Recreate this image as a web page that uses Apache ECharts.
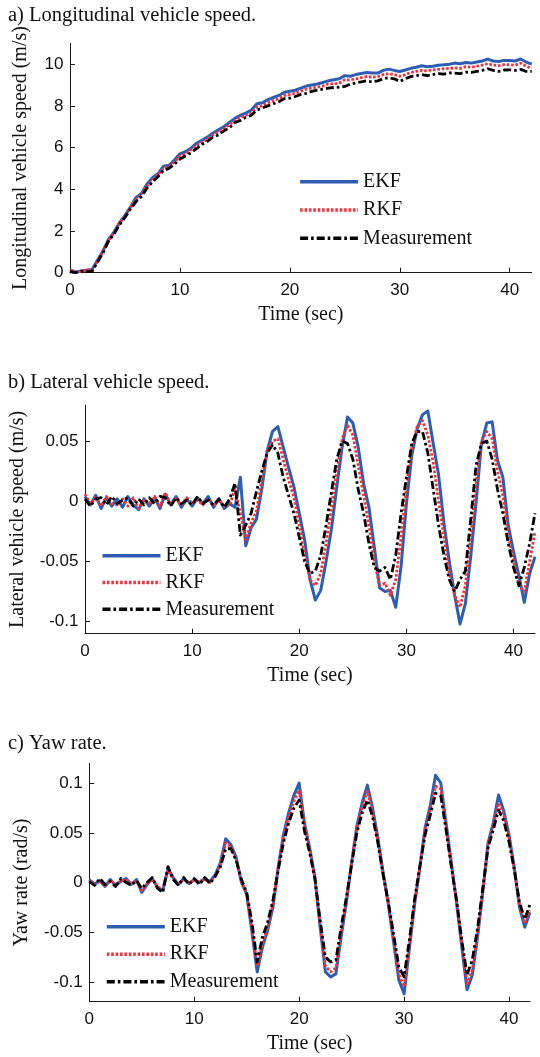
<!DOCTYPE html>
<html>
<head>
<meta charset="utf-8">
<script src="https://cdn.jsdelivr.net/npm/echarts@6/dist/echarts.min.js"></script>
<style>
html,body{margin:0;padding:0;background:#fff;}
#chart{width:540px;height:1057px;}
</style>
</head>
<body>
<div id="chart"></div>
<script>
// ---- data ----
const time = [0,0.5,1,1.5,2,2.5,3,3.5,4,4.5,5,5.5,6,6.5,7,7.5,8,8.5,9,9.5,10,10.5,11,11.5,12,12.5,13,13.5,14,14.5,15,15.5,16,16.5,17,17.5,18,18.5,19,19.5,20,20.5,21,21.5,22,22.5,23,23.5,24,24.5,25,25.5,26,26.5,27,27.5,28,28.5,29,29.5,30,30.5,31,31.5,32,32.5,33,33.5,34,34.5,35,35.5,36,36.5,37,37.5,38,38.5,39,39.5,40,40.5,41,41.5,42];

const seriesNames = ['EKF', 'RKF', 'Measurement'];
const panelTitles = ['a) Longitudinal vehicle speed.', 'b) Lateral vehicle speed.', 'c) Yaw rate.'];
const yNames = ['Longitudinal vehicle speed (m/s)', 'Lateral vehicle speed (m/s)', 'Yaw rate (rad/s)'];
const xName = 'Time (sec)';
const xTicks = [0, 10, 20, 30, 40];
const yTicksA = [0, 2, 4, 6, 8, 10];
const yTicksB = [-0.1, -0.05, 0, 0.05];
const yTicksC = [-0.1, -0.05, 0, 0.05, 0.1];

// a) longitudinal speed (m/s)
const ekfA = [0.15,0.02,0.08,0.12,0.15,0.6,1.05,1.6,1.95,2.4,
  2.75,3.15,3.6,3.8,4.25,4.55,4.75,5.1,5.15,5.4,
  5.7,5.8,5.97,6.2,6.35,6.5,6.7,6.85,7.0,7.2,
  7.4,7.55,7.65,7.8,8.1,8.15,8.3,8.4,8.5,8.65,
  8.7,8.75,8.85,8.95,9.0,9.05,9.12,9.2,9.25,9.3,
  9.45,9.42,9.5,9.55,9.6,9.58,9.57,9.7,9.76,9.7,
  9.65,9.72,9.8,9.85,9.92,9.88,9.9,9.95,9.97,10.0,
  10.05,10.02,10.08,10.05,10.1,10.15,10.24,10.15,10.13,10.18,
  10.18,10.15,10.25,10.1,10.0];
const rkfA = [0.1,0.05,0.05,0.15,0.1,0.55,1.0,1.55,1.9,2.35,
  2.7,3.1,3.5,3.75,4.15,4.45,4.7,5.0,5.1,5.3,
  5.6,5.7,5.9,6.1,6.25,6.4,6.6,6.75,6.9,7.1,
  7.3,7.45,7.55,7.65,7.95,8.0,8.15,8.25,8.35,8.5,
  8.55,8.6,8.7,8.8,8.85,8.9,8.95,9.05,9.05,9.1,
  9.25,9.25,9.3,9.35,9.4,9.38,9.4,9.5,9.55,9.5,
  9.42,9.5,9.6,9.65,9.7,9.68,9.72,9.75,9.78,9.8,
  9.82,9.8,9.88,9.85,9.9,9.95,10.02,9.95,9.93,9.98,
  9.97,9.95,10.05,9.9,9.8];
const measA = [0.05,0.0,0.08,0.05,0.05,0.5,0.95,1.5,1.85,2.3,
  2.65,3.05,3.4,3.65,4.05,4.35,4.6,4.9,5.0,5.2,
  5.45,5.6,5.75,5.95,6.15,6.3,6.5,6.6,6.8,6.95,
  7.2,7.3,7.45,7.55,7.8,7.9,8.0,8.1,8.2,8.35,
  8.37,8.45,8.55,8.6,8.7,8.75,8.8,8.85,8.88,8.9,
  8.93,9.05,9.1,9.15,9.2,9.15,9.2,9.3,9.35,9.3,
  9.17,9.3,9.4,9.45,9.5,9.45,9.5,9.55,9.52,9.58,
  9.57,9.55,9.62,9.6,9.65,9.7,9.78,9.7,9.65,9.72,
  9.73,9.7,9.75,9.65,9.65];

// b) lateral speed (m/s)
const ekfB = [0.004,-0.003,0.005,-0.006,0.003,-0.004,0.002,-0.005,0.004,-0.003,
  -0.007,0.002,-0.004,0.003,-0.006,0.006,-0.003,0.004,-0.005,0.002,
  -0.004,0.003,-0.002,0.004,-0.005,0.002,-0.006,-0.002,-0.005,0.02,
  -0.037,-0.022,-0.015,0.01,0.042,0.058,0.062,0.045,0.028,0.012,
  -0.01,-0.032,-0.065,-0.082,-0.074,-0.05,-0.023,0.012,0.045,0.07,
  0.065,0.045,0.015,-0.005,-0.038,-0.072,-0.075,-0.074,-0.088,-0.054,
  -0.002,0.038,0.06,0.072,0.075,0.048,0.022,-0.018,-0.05,-0.078,
  -0.102,-0.085,-0.046,-0.001,0.048,0.065,0.066,0.034,0.02,-0.02,
  -0.042,-0.062,-0.084,-0.06,-0.046];
const rkfB = [0.006,-0.002,0.003,-0.004,0.004,-0.002,-0.003,0.002,-0.004,0.003,
  -0.006,0.001,-0.002,0.004,-0.004,0.007,-0.002,0.002,-0.003,0.003,
  -0.002,0.001,-0.003,0.002,-0.004,0.001,-0.004,-0.003,0.01,-0.01,
  -0.032,-0.018,-0.008,0.018,0.042,0.05,0.052,0.035,0.018,0.003,
  -0.02,-0.045,-0.065,-0.07,-0.06,-0.035,-0.005,0.025,0.052,0.063,
  0.055,0.03,0.005,-0.02,-0.05,-0.07,-0.068,-0.078,-0.065,-0.03,
  0.012,0.045,0.062,0.067,0.055,0.032,0.0,-0.03,-0.06,-0.078,
  -0.088,-0.07,-0.03,0.015,0.05,0.058,0.052,0.025,0.005,-0.028,
  -0.05,-0.07,-0.075,-0.05,-0.025];
const measB = [0.002,-0.004,0.002,0.003,-0.003,0.004,-0.002,0.001,0.003,-0.004,
  0.002,-0.003,0.003,-0.002,0.004,0.003,-0.004,0.003,-0.002,0.001,
  -0.003,0.004,-0.002,0.001,-0.003,0.002,-0.005,0.002,0.015,-0.028,
  -0.02,-0.01,0.008,0.025,0.04,0.047,0.04,0.02,0.005,-0.01,
  -0.03,-0.05,-0.06,-0.058,-0.045,-0.02,0.008,0.035,0.05,0.048,
  0.035,0.01,-0.01,-0.035,-0.055,-0.058,-0.055,-0.065,-0.045,-0.01,
  0.02,0.048,0.058,0.058,0.04,0.01,-0.02,-0.045,-0.065,-0.075,
  -0.065,-0.058,-0.015,0.03,0.048,0.05,0.035,0.01,-0.01,-0.035,
  -0.055,-0.07,-0.055,-0.035,-0.01];

// c) yaw rate (rad/s)
const ekfC = [0.003,-0.002,0.002,-0.004,0.003,-0.003,0.001,0.004,-0.002,0.003,
  -0.01,-0.002,0.004,-0.005,-0.008,0.014,0.005,-0.002,0.004,-0.001,
  0.003,0.0,0.004,0.001,0.008,0.02,0.044,0.038,0.025,0.0,
  -0.012,-0.05,-0.09,-0.065,-0.048,-0.025,0.015,0.048,0.07,0.088,
  0.1,0.06,0.035,0.005,-0.045,-0.09,-0.095,-0.092,-0.055,-0.02,
  0.02,0.057,0.08,0.098,0.075,0.045,0.01,-0.022,-0.06,-0.098,
  -0.112,-0.067,-0.022,0.015,0.055,0.078,0.108,0.1,0.06,0.02,
  -0.02,-0.065,-0.108,-0.093,-0.055,-0.01,0.04,0.06,0.088,0.072,
  0.048,0.015,-0.025,-0.045,-0.03];
const rkfC = [0.002,-0.001,0.001,-0.003,0.002,-0.002,0.002,0.003,-0.001,0.002,
  -0.008,-0.001,0.003,-0.004,-0.007,0.012,0.004,-0.001,0.003,0.0,
  0.002,0.001,0.003,0.0,0.007,0.018,0.04,0.036,0.023,0.001,
  -0.011,-0.046,-0.084,-0.062,-0.045,-0.022,0.015,0.045,0.066,0.082,
  0.093,0.057,0.033,0.005,-0.042,-0.084,-0.09,-0.086,-0.05,-0.018,
  0.02,0.054,0.076,0.092,0.071,0.042,0.009,-0.021,-0.057,-0.092,
  -0.105,-0.063,-0.02,0.015,0.052,0.074,0.097,0.094,0.057,0.018,
  -0.019,-0.061,-0.102,-0.088,-0.052,-0.009,0.037,0.057,0.08,0.068,
  0.045,0.014,-0.023,-0.041,-0.028];
const measC = [0.001,-0.003,0.004,-0.002,0.001,-0.004,0.004,0.0,-0.003,0.002,
  -0.006,0.0,0.005,-0.006,-0.01,0.016,0.003,-0.003,0.005,-0.002,
  0.004,-0.002,0.005,-0.001,0.006,0.016,0.034,0.034,0.022,0.003,
  -0.01,-0.04,-0.08,-0.055,-0.04,-0.018,0.012,0.04,0.06,0.075,
  0.083,0.052,0.03,0.004,-0.038,-0.075,-0.08,-0.078,-0.045,-0.015,
  0.018,0.05,0.07,0.083,0.066,0.04,0.008,-0.02,-0.052,-0.085,
  -0.095,-0.058,-0.017,0.016,0.048,0.068,0.09,0.087,0.053,0.016,
  -0.018,-0.058,-0.093,-0.078,-0.046,-0.006,0.035,0.053,0.073,0.062,
  0.041,0.013,-0.02,-0.037,-0.022];

// ---- styling ----
const SERIF = '"Liberation Serif","Times New Roman",serif';
const SANS = '"Liberation Sans",Arial,sans-serif';
const AXIS_COLOR = '#1a1a1a';
const styles = {
  EKF: { color: '#2d5eb3', width: 3, type: 'solid' },
  RKF: { color: '#f2323c', width: 2.8, type: [2.6, 1.8] },
  Measurement: { color: '#000000', width: 2.8, type: [8, 3, 2.6, 3] }
};

function pairs(ts, vs) { return ts.map((t, i) => [t, vs[i]]); }
function fmt(v) { return v === 0 ? '0' : String(v); }

const grids = [
  { left: 70, top: 43.3, width: 461.7, height: 229.4 },
  { left: 81.7, top: 405, width: 453.3, height: 228.7 },
  { left: 89.3, top: 763.3, width: 440.7, height: 238.4 }
];
const yRanges = [[0, 11], [-0.11, 0.08], [-0.12, 0.12]];
const yTickSets = [yTicksA, yTicksB, yTicksC];
const yNameGaps = [39, 57, 58];
const titleTops = [5, 371.7, 733.3];
const legendPos = [
  { left: 298.3, top: 171.7, itemGap: 8.3 },
  { left: 100.7, top: 545.7, itemGap: 6.8 },
  { left: 105, top: 916.7, itemGap: 7.5 }
];
const panelData = [[ekfA, rkfA, measA], [ekfB, rkfB, measB], [ekfC, rkfC, measC]];

const option = {
  backgroundColor: '#ffffff',
  animation: false,
  title: panelTitles.map((t, i) => ({
    text: t, left: 8, top: titleTops[i], padding: 0,
    textStyle: { fontFamily: SERIF, fontSize: 20.5, fontWeight: 'normal', color: '#111' }
  })),
  grid: grids,
  xAxis: grids.map((g, i) => ({
    type: 'value', gridIndex: i, min: 0, max: 42,
    name: xName, nameLocation: 'middle', nameGap: 32,
    nameTextStyle: { fontFamily: SERIF, fontSize: 20, color: '#111' },
    axisLine: { show: true, onZero: false, lineStyle: { color: AXIS_COLOR, width: 1 } },
    axisTick: { show: true, inside: true, length: 5, customValues: xTicks, lineStyle: { color: AXIS_COLOR } },
    axisLabel: { customValues: xTicks, margin: 9, fontFamily: SANS, fontSize: 17, color: '#111' },
    splitLine: { show: false }
  })),
  yAxis: grids.map((g, i) => ({
    type: 'value', gridIndex: i, min: yRanges[i][0], max: yRanges[i][1],
    name: yNames[i], nameLocation: 'middle', nameGap: yNameGaps[i],
    nameTextStyle: { fontFamily: SERIF, fontSize: 20, color: '#111' },
    axisLine: { show: true, onZero: false, lineStyle: { color: AXIS_COLOR, width: 1 } },
    axisTick: { show: true, inside: true, length: 5, customValues: yTickSets[i], lineStyle: { color: AXIS_COLOR } },
    axisLabel: { customValues: yTickSets[i], margin: 6.5, fontFamily: SANS, fontSize: 17, color: '#111', formatter: fmt },
    splitLine: { show: false }
  })),
  legend: legendPos.map(p => ({
    orient: 'vertical', left: p.left, top: p.top, itemGap: p.itemGap,
    itemWidth: 58, itemHeight: 14, padding: 0, selectedMode: false,
    itemStyle: { opacity: 0 },
    lineStyle: { width: 3.6 },
    textStyle: { fontFamily: SERIF, fontSize: 20, color: '#111', lineHeight: 20 },
    data: seriesNames
  })),
  series: []
};

panelData.forEach((arrs, gi) => {
  arrs.forEach((vals, si) => {
    const name = seriesNames[si];
    const st = styles[name];
    option.series.push({
      type: 'line', name: name, xAxisIndex: gi, yAxisIndex: gi,
      data: pairs(time, vals),
      symbol: 'none', showSymbol: false, smooth: false,
      lineStyle: { color: st.color, width: st.width, type: st.type, cap: 'butt', join: 'round' },
      itemStyle: { color: st.color },
      emphasis: { disabled: true }
    });
  });
});

const chart = echarts.init(document.getElementById('chart'), null, { renderer: 'canvas' });
chart.setOption(option);
</script>
</body>
</html>
